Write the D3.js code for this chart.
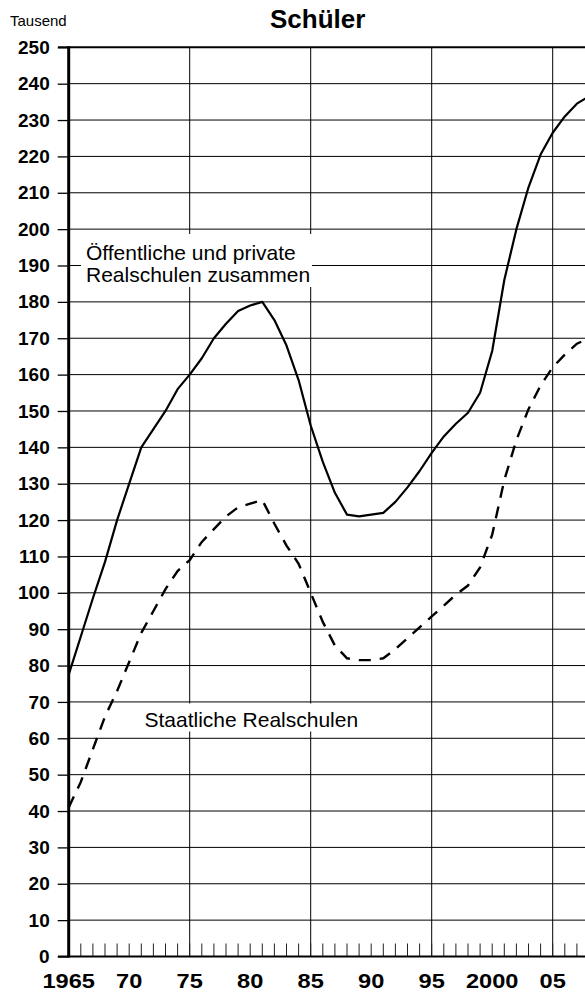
<!DOCTYPE html>
<html>
<head>
<meta charset="utf-8">
<script src="https://cdn.jsdelivr.net/npm/d3@7"></script>
<style>
  body { margin: 0; background: #fff; }
  svg { display: block; }
</style>
</head>
<body>
<svg id="chart"></svg>
<script>
// Schüler an Realschulen, in Tausend
const years = [1965, 1966, 1967, 1968, 1969, 1970, 1971, 1972, 1973, 1974,
               1975, 1976, 1977, 1978, 1979, 1980, 1981, 1982, 1983, 1984,
               1985, 1986, 1987, 1988, 1989, 1990, 1991, 1992, 1993, 1994,
               1995, 1996, 1997, 1998, 1999, 2000, 2001, 2002, 2003, 2004,
               2005, 2006, 2007, 2008];

// öffentliche und private Realschulen zusammen
const zusammen = [77.5, 88, 98.5, 108.5, 120, 130, 140, 145, 150, 156,
                  160, 164.5, 170, 174, 177.5, 179, 180, 175, 168, 158.5,
                  146, 136, 127.5, 121.5, 121, 121.5, 122, 125, 129, 133.5,
                  138.5, 143, 146.5, 149.5, 155, 166.5, 186, 200, 211.5, 220.5,
                  226.5, 231, 234.5, 236.5];

// staatliche Realschulen
const staatlich = [41, 48, 57, 66, 73, 81, 89, 95, 101, 106,
                   109, 114, 117.5, 121, 123.5, 124.5, 125.5, 119, 113, 108,
                   100, 92, 85.5, 82, 81.5, 81.5, 82, 84.5, 87.5, 90.5,
                   93.5, 96.5, 99.5, 102, 107, 116, 131, 142, 150.5, 157,
                   162, 165.5, 168.5, 170];

const yTicks = [0, 10, 20, 30, 40, 50, 60, 70, 80, 90, 100, 110, 120,
                130, 140, 150, 160, 170, 180, 190, 200, 210, 220, 230, 240, 250];
const xLabelYears = [1965, 1970, 1975, 1980, 1985, 1990, 1995, 2000, 2005];
const xLabels = ["1965", "70", "75", "80", "85", "90", "95", "2000", "05"];
const gridYears = [1975, 1985, 1995, 2005];

const w = 585, h = 996;
const font = "'Liberation Sans', Arial, Helvetica, sans-serif";

const svg = d3.select("#chart")
              .attr("width", w)
              .attr("height", h)
              .style("font-family", font);

const x = d3.scaleLinear().domain([1965, 2008]).range([68.7, 589]);
const y = d3.scaleLinear().domain([0, 250]).range([956.5, 47.3]);

// gitter
svg.append("g")
   .selectAll("line")
   .data(yTicks.filter(d => d > 0 && d < 250))
   .join("line")
   .attr("x1", x(1965)).attr("x2", w)
   .attr("y1", d => y(d)).attr("y2", d => y(d))
   .attr("stroke", "#000")
   .attr("stroke-width", 1);

svg.append("g")
   .selectAll("line")
   .data(gridYears)
   .join("line")
   .attr("x1", d => x(d)).attr("x2", d => x(d))
   .attr("y1", y(250)).attr("y2", y(0))
   .attr("stroke", "#000")
   .attr("stroke-width", 1);

// jahres-striche unten
svg.append("g")
   .selectAll("line")
   .data(years.filter(d => d > 1965))
   .join("line")
   .attr("x1", d => x(d)).attr("x2", d => x(d))
   .attr("y1", y(0)).attr("y2", y(0) - 13)
   .attr("stroke", "#222")
   .attr("stroke-width", 1);

// beschriftungen mit weissem hintergrund
function note(lines, x0, base, lh, box) {
  svg.append("rect")
     .attr("x", box[0]).attr("y", box[1])
     .attr("width", box[2]).attr("height", box[3])
     .attr("fill", "#fff");
  const t = svg.append("text")
               .attr("font-size", 21)
               .attr("fill", "#000");
  lines.forEach((s, i) => {
    t.append("tspan").attr("x", x0).attr("y", base + i * lh).text(s);
  });
}

note(["Öffentliche und private", "Realschulen zusammen"], 86, 260, 22.3, [81, 234, 231, 53]);
note(["Staatliche Realschulen"], 144.5, 726.5, 0, [140, 703.5, 222, 28]);

// kurven
const line = d3.line()
               .x((d, i) => x(years[i]))
               .y(d => y(d));

svg.append("path")
   .datum(zusammen)
   .attr("d", line)
   .attr("fill", "none")
   .attr("stroke", "#000")
   .attr("stroke-width", 2.2)
   .attr("stroke-linejoin", "round");

svg.append("path")
   .datum(staatlich)
   .attr("d", line)
   .attr("fill", "none")
   .attr("stroke", "#000")
   .attr("stroke-width", 2.4)
   .attr("stroke-dasharray", "12,9");

// achsen
const yAxis = svg.append("g")
                 .attr("transform", `translate(${x(1965)},0)`)
                 .call(d3.axisLeft(y).tickValues(yTicks).tickSize(11).tickPadding(8).tickFormat(d3.format("d")));
yAxis.select(".domain").remove();
yAxis.selectAll(".tick line").attr("stroke", "#000").attr("stroke-width", 1.3);
yAxis.selectAll(".tick text")
     .attr("font-family", font)
     .attr("font-size", 19)
     .attr("font-weight", "bold")
     .attr("fill", "#000");

svg.append("line")
   .attr("x1", 58).attr("x2", w)
   .attr("y1", y(250)).attr("y2", y(250))
   .attr("stroke", "#000").attr("stroke-width", 2);

svg.append("line")
   .attr("x1", 58).attr("x2", w)
   .attr("y1", y(0)).attr("y2", y(0))
   .attr("stroke", "#000").attr("stroke-width", 2);

svg.append("line")
   .attr("x1", x(1965)).attr("x2", x(1965))
   .attr("y1", y(250) - 1).attr("y2", y(0) + 1)
   .attr("stroke", "#000").attr("stroke-width", 3);

svg.append("g")
   .selectAll("text")
   .data(xLabelYears)
   .join("text")
   .attr("transform", d => `translate(${x(d)},988) scale(1.18,1)`)
   .attr("text-anchor", "middle")
   .attr("font-size", 20)
   .attr("font-weight", "bold")
   .attr("fill", "#000")
   .text((d, i) => xLabels[i]);

// titel und einheit
svg.append("text")
   .attr("x", 270).attr("y", 28.3)
   .attr("font-size", 26)
   .attr("font-weight", "bold")
   .text("Schüler");

svg.append("text")
   .attr("x", 10).attr("y", 26)
   .attr("font-size", 15)
   .text("Tausend");
</script>
</body>
</html>
